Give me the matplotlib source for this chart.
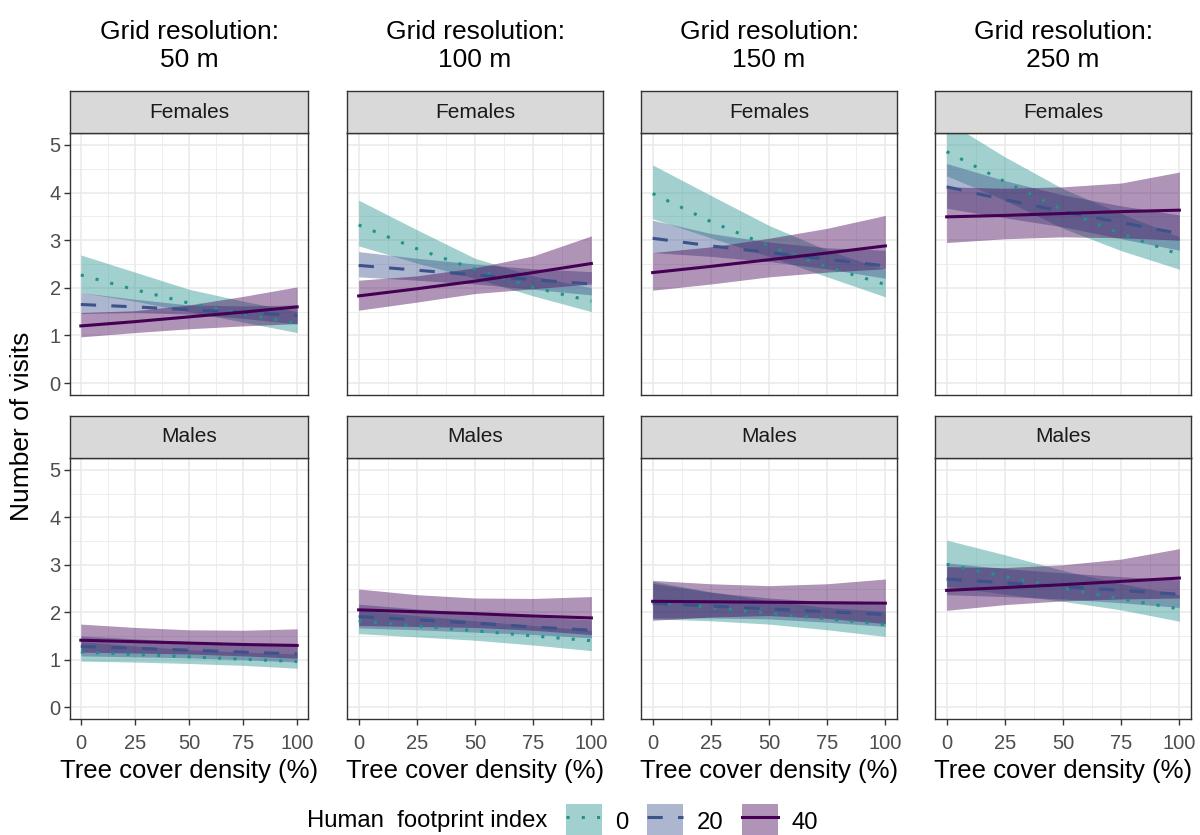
import numpy as np
import matplotlib
matplotlib.use('Agg')
import matplotlib.pyplot as plt
from matplotlib.patches import Patch
from matplotlib.lines import Line2D

plt.rcParams['font.family'] = ['Liberation Sans', 'DejaVu Sans']

# tree cover density (%) at which the predictions were read
tree_cover = [0, 25, 50, 75, 100]
resolutions = ['50 m', '100 m', '150 m', '250 m']
sexes = ['Females', 'Males']
hfi_levels = ['0', '20', '40']

# predicted number of visits, rows = HFI 0 / 20 / 40
fem_50_fit = [[2.27, 1.96, 1.68, 1.45, 1.25], [1.65, 1.60, 1.54, 1.48, 1.42], [1.20, 1.29, 1.39, 1.49, 1.60]]
fem_50_lo = [[1.90, 1.72, 1.50, 1.28, 1.06], [1.46, 1.48, 1.45, 1.36, 1.24], [0.97, 1.06, 1.14, 1.20, 1.25]]
fem_50_hi = [[2.69, 2.33, 1.97, 1.72, 1.50], [1.90, 1.76, 1.64, 1.62, 1.64], [1.48, 1.52, 1.64, 1.82, 2.02]]

fem_100_fit = [[3.32, 2.82, 2.39, 2.01, 1.72], [2.47, 2.37, 2.27, 2.17, 2.08], [1.83, 1.98, 2.14, 2.32, 2.51]]
fem_100_lo = [[2.88, 2.52, 2.20, 1.83, 1.50], [2.23, 2.16, 2.08, 1.97, 1.85], [1.53, 1.70, 1.88, 1.98, 2.08]]
fem_100_hi = [[3.84, 3.22, 2.62, 2.25, 2.00], [2.76, 2.62, 2.50, 2.40, 2.34], [2.16, 2.25, 2.42, 2.67, 3.09]]

fem_150_fit = [[3.98, 3.39, 2.88, 2.44, 2.07], [3.04, 2.88, 2.74, 2.60, 2.46], [2.32, 2.45, 2.59, 2.73, 2.88]]
fem_150_lo = [[3.45, 3.05, 2.66, 2.23, 1.81], [2.74, 2.66, 2.55, 2.40, 2.20], [1.95, 2.08, 2.23, 2.33, 2.40]]
fem_150_hi = [[4.58, 3.94, 3.31, 2.79, 2.38], [3.42, 3.14, 2.96, 2.84, 2.79], [2.74, 2.86, 3.04, 3.25, 3.52]]

fem_250_fit = [[4.86, 4.23, 3.63, 3.14, 2.70], [4.12, 3.85, 3.60, 3.37, 3.14], [3.49, 3.52, 3.56, 3.60, 3.63]]
fem_250_lo = [[4.35, 3.84, 3.25, 2.78, 2.39], [3.67, 3.47, 3.28, 3.03, 2.79], [2.95, 3.03, 3.07, 3.05, 3.00]]
fem_250_hi = [[5.50, 4.75, 4.08, 3.56, 3.07], [4.61, 4.25, 3.95, 3.72, 3.53], [4.12, 4.09, 4.12, 4.20, 4.43]]

mal_50_fit = [[1.16, 1.11, 1.06, 1.01, 0.96], [1.28, 1.24, 1.20, 1.16, 1.12], [1.41, 1.38, 1.35, 1.32, 1.30]]
mal_50_lo = [[0.97, 0.95, 0.92, 0.88, 0.82], [1.08, 1.06, 1.04, 1.00, 0.95], [1.16, 1.14, 1.12, 1.08, 1.03]]
mal_50_hi = [[1.38, 1.29, 1.21, 1.16, 1.12], [1.50, 1.44, 1.38, 1.34, 1.32], [1.75, 1.68, 1.63, 1.62, 1.65]]

mal_100_fit = [[1.82, 1.71, 1.61, 1.50, 1.40], [1.91, 1.84, 1.77, 1.69, 1.62], [2.05, 2.01, 1.97, 1.92, 1.88]]
mal_100_lo = [[1.55, 1.48, 1.41, 1.31, 1.19], [1.67, 1.63, 1.58, 1.53, 1.46], [1.72, 1.70, 1.68, 1.62, 1.53]]
mal_100_hi = [[2.04, 1.93, 1.82, 1.72, 1.62], [2.17, 2.07, 1.98, 1.90, 1.84], [2.49, 2.37, 2.30, 2.29, 2.33]]

mal_150_fit = [[2.22, 2.10, 1.98, 1.86, 1.74], [2.19, 2.13, 2.07, 2.01, 1.95], [2.23, 2.22, 2.21, 2.20, 2.19]]
mal_150_lo = [[1.86, 1.82, 1.75, 1.63, 1.49], [1.88, 1.88, 1.86, 1.79, 1.70], [1.83, 1.90, 1.93, 1.87, 1.76]]
mal_150_hi = [[2.65, 2.43, 2.24, 2.10, 2.02], [2.61, 2.42, 2.30, 2.22, 2.16], [2.67, 2.60, 2.56, 2.60, 2.70]]

mal_250_fit = [[3.01, 2.75, 2.51, 2.28, 2.07], [2.70, 2.62, 2.54, 2.46, 2.38], [2.46, 2.52, 2.58, 2.65, 2.72]]
mal_250_lo = [[2.55, 2.38, 2.23, 2.05, 1.81], [2.37, 2.33, 2.28, 2.20, 2.10], [2.04, 2.16, 2.24, 2.28, 2.30]]
mal_250_hi = [[3.52, 3.21, 2.88, 2.60, 2.37], [3.04, 2.92, 2.83, 2.75, 2.68], [2.96, 2.94, 3.00, 3.12, 3.34]]

panels = {
    ('Females', 0): (fem_50_fit, fem_50_lo, fem_50_hi),
    ('Females', 1): (fem_100_fit, fem_100_lo, fem_100_hi),
    ('Females', 2): (fem_150_fit, fem_150_lo, fem_150_hi),
    ('Females', 3): (fem_250_fit, fem_250_lo, fem_250_hi),
    ('Males', 0): (mal_50_fit, mal_50_lo, mal_50_hi),
    ('Males', 1): (mal_100_fit, mal_100_lo, mal_100_hi),
    ('Males', 2): (mal_150_fit, mal_150_lo, mal_150_hi),
    ('Males', 3): (mal_250_fit, mal_250_lo, mal_250_hi),
}

colores = ['#21918c', '#3b528b', '#440154']
estilos = [(0, (1, 4)), (0, (5, 5)), '-']
ALPHA = 0.42

W, H = 1200, 835
fig = plt.figure(figsize=(W / 100, H / 100), dpi=100)


def caja(x0, y0, x1, y1):
    # pixel box (top-left origin) -> figure fraction
    return [x0 / W, 1 - y1 / H, (x1 - x0) / W, (y1 - y0) / H]


cols = [(70, 308), (347, 603), (641, 897), (935, 1191)]
filas = [(133, 395), (458, 719)]
strips = [(91, 133), (416, 458)]

for r, sexo in enumerate(sexes):
    for c in range(4):
        x0, x1 = cols[c]
        ax = fig.add_axes(caja(x0, filas[r][0], x1, filas[r][1]))
        fit, lo, hi = panels[(sexo, c)]
        for k in range(3):
            ax.fill_between(tree_cover, lo[k], hi[k], color=colores[k], alpha=ALPHA, lw=0)
        for k in range(3):
            ax.plot(tree_cover, fit[k], color=colores[k], ls=estilos[k], lw=2.2,
                    dash_capstyle='butt')
        ax.set_xlim(-5, 105)
        ax.set_ylim(-0.25, 5.25)
        ax.set_xticks([0, 25, 50, 75, 100])
        ax.set_xticks([12.5, 37.5, 62.5, 87.5], minor=True)
        ax.set_yticks([0, 1, 2, 3, 4, 5])
        ax.set_yticks([0.5, 1.5, 2.5, 3.5, 4.5], minor=True)
        ax.grid(True, which='major', color='#ebebeb', lw=1.2, zorder=0)
        ax.grid(True, which='minor', color='#ebebeb', lw=0.6, zorder=0)
        ax.set_axisbelow(True)
        for s in ax.spines.values():
            s.set_color('#333333')
            s.set_linewidth(1.0)
        ax.tick_params(which='minor', length=0)
        ax.tick_params(which='major', length=4.5, width=1.0, color='#333333',
                       labelsize=14.5, labelcolor='#4d4d4d', pad=2.2)
        ax.tick_params(axis='x', which='major', pad=6.5)
        if c != 0:
            ax.tick_params(axis='y', left=False, labelleft=False)
        if r == 0:
            ax.tick_params(axis='x', bottom=False, labelbottom=False)
        else:
            ax.set_xlabel('Tree cover density (%)', fontsize=18.5, color='black', labelpad=4)

        # strip
        sax = fig.add_axes(caja(x0, strips[r][0], x1, strips[r][1]))
        sax.set_facecolor('#d9d9d9')
        sax.set_xticks([])
        sax.set_yticks([])
        for s in sax.spines.values():
            s.set_color('#333333')
            s.set_linewidth(1.0)
        sax.text(0.5, 0.5, sexo, ha='center', va='center', fontsize=15, color='#1a1a1a',
                 transform=sax.transAxes)

for c in range(4):
    x0, x1 = cols[c]
    fig.text((x0 + x1) / 2 / W, 1 - 46 / H, 'Grid resolution:\n' + resolutions[c],
             ha='center', va='center', fontsize=19, linespacing=1.22)

fig.text(22 / W, 1 - 426 / H, 'Number of visits', rotation=90, ha='center', va='center',
         fontsize=19)

# legend
fig.text(307 / W, 1 - 821 / H, 'Human  footprint index', ha='left', va='center', fontsize=17.2)
handles = [(Patch(facecolor=colores[k], alpha=ALPHA, lw=0),
            Line2D([], [], color=colores[k], ls=estilos[k], lw=2.2))
           for k in range(3)]
fig.legend(handles, hfi_levels, loc='center left', bbox_to_anchor=(566 / W, 1 - 821 / H),
           ncol=3, frameon=False, fontsize=17.2, handlelength=1.5, handleheight=1.75,
           handletextpad=0.55, columnspacing=0.8, borderpad=0, borderaxespad=0)

plt.savefig('out.png', dpi=100)
